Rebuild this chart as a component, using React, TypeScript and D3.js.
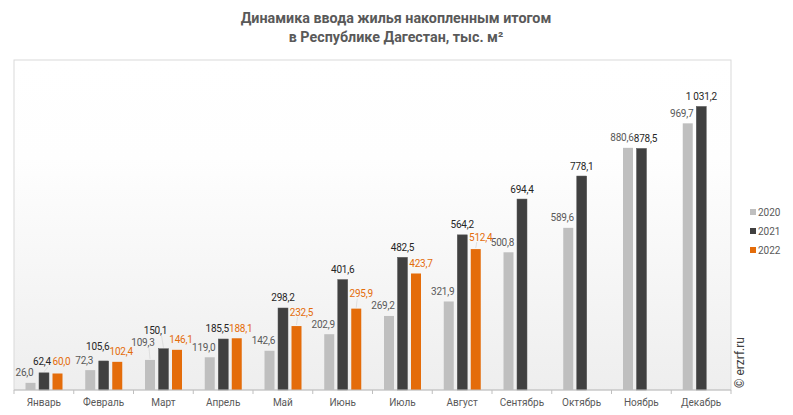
import React from "react";
import * as d3 from "d3";

const months = ["Январь", "Февраль", "Март", "Апрель", "Май", "Июнь", "Июль", "Август", "Сентябрь", "Октябрь", "Ноябрь", "Декабрь"];
const years = ["2020", "2021", "2022"];
const v2020 = [26.0, 72.3, 109.3, 119.0, 142.6, 202.9, 269.2, 321.9, 500.8, 589.6, 880.6, 969.7];
const v2021 = [62.4, 105.6, 150.1, 185.5, 298.2, 401.6, 482.5, 564.2, 694.4, 778.1, 878.5, 1031.2];
const v2022 = [60.0, 102.4, 146.1, 188.1, 232.5, 295.9, 423.7, 512.4];

const seriesValues = [v2020, v2021, v2022];
const barColors = ["#BFBFBF", "#404040", "#E46C0A"];
const labelColors = ["#595959", "#262626", "#E46C0A"];
const labelDx = [-6, 0, 4];

// manual label nudges (series index - month index), like the original chart
const nudges: Record<string, { dx?: number; dy?: number; line?: boolean }> = {
  "0-2": { dx: -7, dy: 17, line: true },
  "1-0": { dx: -2, dy: 11, line: true },
  "1-1": { dx: -6, dy: 14 },
  "1-2": { dx: -8, dy: 18, line: true },
  "1-3": { dx: -6 },
  "1-10": { dx: 4 },
  "2-0": { dy: 12 },
  "2-4": { dx: 5, dy: 14, line: true },
  "2-5": { dx: 5, dy: 15, line: true },
  "2-6": { dx: 5 },
  "2-7": { dx: 5, dy: 12, line: true },
};

const ru = d3.formatLocale({ decimal: ",", thousands: " ", grouping: [3], currency: ["", ""] });
const fmt = ru.format(",.1f");

export default function App() {
  const width = 793;
  const height = 415;
  const plot = { left: 14, right: 731, top: 60, bottom: 390 };

  const x = d3.scaleBand().domain(months).range([plot.left, plot.right]);
  const xInner = d3
    .scaleBand()
    .domain(years)
    .range([11.5, 48.5])
    .paddingInner(0.26);
  const y = d3.scaleLinear().domain([0, 1200]).range([plot.bottom, plot.top]);

  const font = "Roboto, 'Liberation Sans', Arial, sans-serif";

  return (
    <svg width={width} height={height} style={{ position: "absolute", left: 0, top: 0, background: "#fff" }} fontFamily={font}>
      <defs>
        <linearGradient id="bg" x1="0" y1="0" x2="0" y2="1">
          <stop offset="0" stopColor="#FFFFFF" />
          <stop offset="0.3" stopColor="#FEFEFE" />
          <stop offset="1" stopColor="#EEEEEE" />
        </linearGradient>
      </defs>

      {/* title */}
      <text x={396} y={23} textAnchor="middle" fontSize={14.3} fontWeight={700} fill="#595959">
        Динамика ввода жилья накопленным итогом
      </text>
      <text x={396} y={42} textAnchor="middle" fontSize={14.3} fontWeight={700} fill="#595959">
        в Республике Дагестан, тыс. м²
      </text>

      {/* plot area */}
      <rect
        x={plot.left}
        y={plot.top}
        width={plot.right - plot.left}
        height={plot.bottom - plot.top}
        fill="url(#bg)"
        stroke="#D9D9D9"
        strokeWidth={1}
      />

      {/* bars */}
      {seriesValues.map((vals, s) =>
        vals.map((v, i) => (
          <rect
            key={`b${s}-${i}`}
            x={(x(months[i]) as number) + (xInner(years[s]) as number)}
            y={y(v)}
            width={xInner.bandwidth()}
            height={plot.bottom - y(v)}
            fill={barColors[s]}
            stroke={s === 1 ? "#595959" : "none"}
            strokeWidth={0.5}
          />
        ))
      )}

      {/* value labels */}
      {seriesValues.map((vals, s) =>
        vals.map((v, i) => {
          const n = nudges[`${s}-${i}`] || {};
          const cx = (x(months[i]) as number) + (xInner(years[s]) as number) + xInner.bandwidth() / 2;
          const lx = cx + (n.dx !== undefined ? n.dx : labelDx[s]);
          const ly = y(v) - (n.dy !== undefined ? n.dy : 10);
          return (
            <g key={`l${s}-${i}`}>
              {n.line && (
                <line x1={lx + (cx > lx ? 6 : -4)} y1={ly + 5} x2={cx} y2={y(v) - 1} stroke="#D9D9D9" strokeWidth={0.8} />
              )}
              <text x={lx} y={ly + 3.5} textAnchor="middle" fontSize={10} letterSpacing={-0.2} fill={labelColors[s]}>
                {fmt(v)}
              </text>
            </g>
          );
        })
      )}

      {/* x axis */}
      <line x1={plot.left} x2={plot.right} y1={plot.bottom} y2={plot.bottom} stroke="#BFBFBF" />
      {months.map((m, i) => (
        <line
          key={`t${i}`}
          x1={x(m) as number}
          x2={x(m) as number}
          y1={plot.bottom}
          y2={plot.bottom + 4}
          stroke="#BFBFBF"
        />
      ))}
      <line x1={plot.right} x2={plot.right} y1={plot.bottom} y2={plot.bottom + 4} stroke="#BFBFBF" />
      {months.map((m) => (
        <text
          key={m}
          x={(x(m) as number) + x.bandwidth() / 2}
          y={406}
          textAnchor="middle"
          fontSize={10}
          fill="#595959"
        >
          {m}
        </text>
      ))}

      {/* legend */}
      {years.map((yr, s) => (
        <g key={yr} transform={`translate(750, ${212 + s * 19})`}>
          <rect x={0} y={-3} width={6} height={6} fill={barColors[s]} />
          <text x={8} y={3.5} fontSize={10} fill="#595959">
            {yr}
          </text>
        </g>
      ))}

      {/* watermark */}
      <text
        transform="translate(744, 388) rotate(-90)"
        fontSize={12}
        fill="#404040"
      >
        © erzrf.ru
      </text>
    </svg>
  );
}
